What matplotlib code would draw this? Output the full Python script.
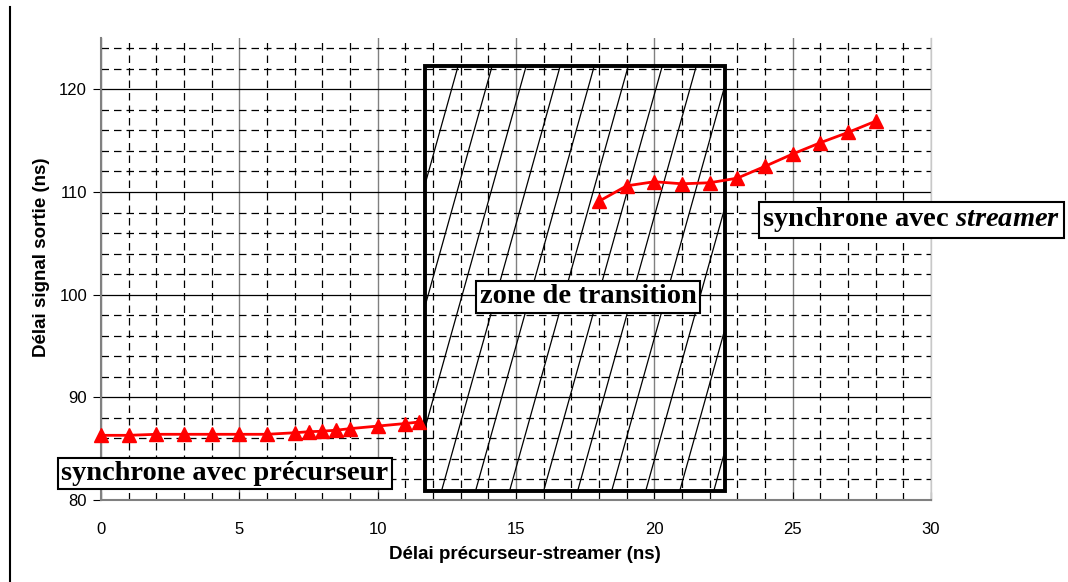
import matplotlib
matplotlib.use("Agg")
import matplotlib.pyplot as plt
import numpy as np
from matplotlib.patches import Rectangle
from matplotlib.lines import Line2D
from matplotlib.ticker import MultipleLocator

plt.rcParams['mathtext.fontset'] = 'custom'
plt.rcParams['mathtext.rm'] = 'Liberation Serif:bold'
plt.rcParams['mathtext.it'] = 'Liberation Serif:italic:bold'

# data
x_prec = [0, 1, 2, 3, 4, 5, 6, 7, 7.5, 8, 8.5, 9, 10, 11, 11.5]
y_prec = [86.3, 86.3, 86.4, 86.4, 86.4, 86.4, 86.4, 86.55, 86.65, 86.7, 86.8, 86.95, 87.2, 87.45, 87.6]
x_str = [18, 19, 20, 21, 22, 23, 24, 25, 26, 27, 28]
y_str = [109.1, 110.6, 111.0, 110.8, 110.9, 111.35, 112.5, 113.7, 114.8, 115.8, 116.9]

zone_x = (11.7, 22.55)
zone_y = (80.9, 122.3)

xlabel = "Délai précurseur-streamer (ns)"
ylabel = "Délai signal sortie (ns)"

fig = plt.figure(figsize=(10.68, 5.82), dpi=100)
ax = fig.add_axes([101/1068, 1-500/582, 830/1068, 462/582])
ax.set_xlim(0, 30)
ax.set_ylim(80, 125)

ax.xaxis.set_major_locator(MultipleLocator(5))
ax.xaxis.set_minor_locator(MultipleLocator(1))
ax.yaxis.set_major_locator(MultipleLocator(10))
ax.yaxis.set_minor_locator(MultipleLocator(2))
ax.set_yticks([80, 90, 100, 110, 120])

ax.grid(False)
# gridlines
for xv in np.arange(0, 31, 1):
    if xv % 5 == 0:
        ax.axvline(xv, color='#808080', lw=1.0, zorder=1)
    else:
        ax.axvline(xv, color='black', lw=0.9, ls=(0, (6, 4)), zorder=1)
for yv in np.arange(80, 126, 2):
    if yv % 10 == 0:
        ax.axhline(yv, color='black', lw=0.9, zorder=1)
    else:
        ax.axhline(yv, color='black', lw=0.9, ls=(0, (6, 4)), zorder=1)

ax.spines['top'].set_visible(False)
ax.spines['left'].set_color('#808080')
ax.spines['left'].set_linewidth(1.5)
ax.spines['bottom'].set_color('#808080')
ax.spines['bottom'].set_linewidth(1.5)
ax.spines['right'].set_color('#c8c8c8')
ax.spines['right'].set_linewidth(1.0)

ax.tick_params(axis='y', which='major', direction='out', length=6, color='black',
               labelsize=12, pad=4)
ax.tick_params(axis='y', which='minor', length=0)
ax.tick_params(axis='x', which='major', direction='in', length=6, color='black',
               labelsize=12, pad=16)
ax.tick_params(axis='x', which='minor', direction='in', length=3, color='black')
for lab in ax.get_xticklabels() + ax.get_yticklabels():
    lab.set_fontfamily('Liberation Sans')

# transition zone
rect = Rectangle((zone_x[0], zone_y[0]), zone_x[1]-zone_x[0], zone_y[1]-zone_y[0],
                 fill=False, edgecolor='black', lw=2.8, zorder=4)
ax.add_patch(rect)
clip = Rectangle((zone_x[0], zone_y[0]), zone_x[1]-zone_x[0], zone_y[1]-zone_y[0],
                 transform=ax.transData, fill=False, lw=0)
shift = 4.29
step = 1.23
start = 12.91 - shift
k = start - step * 10
while k < zone_x[1] + 1:
    ln, = ax.plot([k, k + shift], [zone_y[0], zone_y[1]], color='black', lw=0.9, zorder=2)
    ln.set_clip_path(clip)
    k += step

ax.plot(x_prec, y_prec, color='red', lw=2.0, marker='^', ms=10, mec='red', mfc='red', zorder=5,
        clip_on=False)
ax.plot(x_str, y_str, color='red', lw=2.0, marker='^', ms=10, mec='red', mfc='red', zorder=5,
        clip_on=False)

bb = dict(boxstyle='square,pad=0.12', facecolor='white', edgecolor='black', lw=1.5)
ax.text(4.47, 82.58, "synchrone avec précurseur", fontfamily='Liberation Serif', fontweight='bold',
        fontsize=20.5, ha='center', va='center', bbox=bb, zorder=6, clip_on=False)
ax.text(17.6, 99.8, "zone de transition", fontfamily='Liberation Serif', fontweight='bold',
        fontsize=20.5, ha='center', va='center', bbox=bb, zorder=6, clip_on=False)
ax.text(29.28, 107.3, r"synchrone avec $\mathit{streamer}$", fontfamily='Liberation Serif',
        fontweight='bold', fontsize=20.5, ha='center', va='center', bbox=bb, zorder=6, clip_on=False)

ax.set_xlabel(xlabel, fontfamily='Liberation Sans', fontweight='bold', fontsize=13.5)
ax.set_ylabel(ylabel, fontfamily='Liberation Sans', fontweight='bold', fontsize=13.5)
ax.xaxis.set_label_coords(0.511, -0.1)
ax.yaxis.set_label_coords(-0.062, 0.525)

fig.add_artist(Line2D([10/1068, 10/1068], [0, 1-7/582], color='black', lw=1.5))

fig.savefig("out.png", dpi=100)
